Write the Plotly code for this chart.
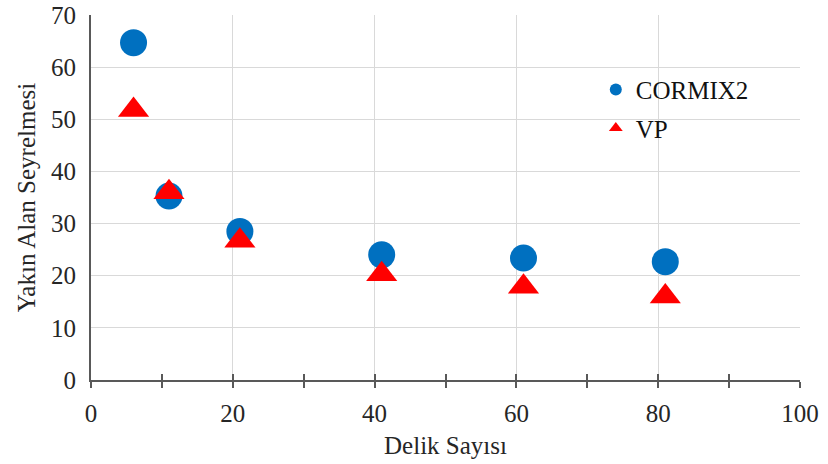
import plotly.graph_objects as go

x_vals = [6, 11, 21, 41, 61, 81]
cormix2 = [64.7, 35.3, 28.5, 24.0, 23.4, 22.7]
vp = [51.8, 36.0, 26.7, 20.3, 17.9, 16.0]

font_family = "Liberation Serif"
txt = "#262626"

fig = go.Figure()
fig.add_trace(go.Scatter(
    x=x_vals, y=cormix2, mode="markers", name="CORMIX2",
    legendgroup="a",
    marker=dict(symbol="circle", size=27, color="#0070C0"),
))
fig.add_trace(go.Scatter(
    x=x_vals, y=vp, mode="markers", name="VP",
    legendgroup="b",
    marker=dict(symbol="triangle-up", size=27, color="#FF0000"),
))
# overlay axis for the inward half of the crossing tick marks
fig.add_trace(go.Scatter(x=[None], y=[None], xaxis="x2", showlegend=False, hoverinfo="skip"))

fig.update_layout(
    width=828, height=464,
    margin=dict(l=91, r=28, t=15, b=84),
    paper_bgcolor="white", plot_bgcolor="white",
    font=dict(family=font_family, size=25, color=txt),
    showlegend=True,
    legend=dict(
        x=0.712, y=0.858, xanchor="left", yanchor="top",
        bgcolor="rgba(0,0,0,0)",
        font=dict(family=font_family, size=25, color="#111111"),
        itemsizing="constant",
        traceorder="grouped",
        tracegroupgap=3,
        itemwidth=30,
    ),
    xaxis=dict(
        range=[0, 100], dtick=20, tick0=0, automargin=False,
        showgrid=True, gridcolor="#D9D9D9", gridwidth=1,
        showline=True, linecolor="#595959", linewidth=2,
        ticks="outside", ticklen=6, tickcolor="#595959", tickwidth=1.5,
        minor=dict(dtick=10, ticks="outside", ticklen=6, tickcolor="#595959", tickwidth=1.5, showgrid=False),
        zeroline=False,
        title=dict(text="Delik Sayısı", font=dict(family=font_family, size=25, color=txt), standoff=10),
        tickfont=dict(family=font_family, size=25, color=txt),
        ticklabelstandoff=4,
    ),
    xaxis2=dict(
        range=[0, 100], overlaying="x", side="bottom", anchor="y",
        dtick=10, tick0=0, ticks="inside", ticklen=6, tickcolor="#595959", tickwidth=1.5,
        showticklabels=False, showgrid=False, zeroline=False, showline=False,
    ),
    yaxis=dict(
        range=[0, 70], dtick=10, tick0=0, automargin=False,
        showgrid=True, gridcolor="#D9D9D9", gridwidth=1,
        showline=True, linecolor="#595959", linewidth=2,
        ticks="", zeroline=False,
        title=dict(text="Yakın Alan Seyrelmesi", font=dict(family=font_family, size=25, color=txt), standoff=8),
        tickfont=dict(family=font_family, size=25, color=txt),
        ticklabelstandoff=8,
    ),
)

fig.write_html("out.html")
